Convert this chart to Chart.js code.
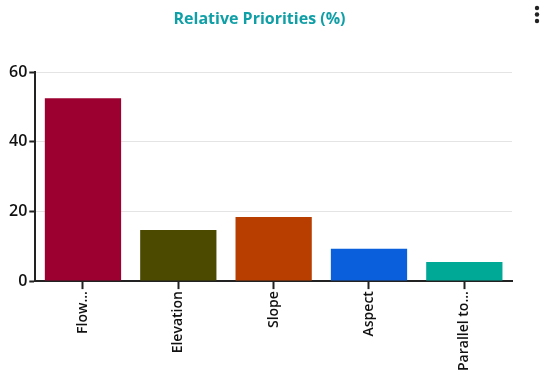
<!DOCTYPE html>
<html>
<head>
<meta charset="utf-8">
<script src="https://cdn.jsdelivr.net/npm/chart.js@4"></script>
<style>
  html, body { margin: 0; padding: 0; background: #fff; }
  #wrap { width: 550px; height: 377px; }
</style>
</head>
<body>
<div id="wrap"><canvas id="prioChart" width="550" height="377"></canvas></div>
<script>
// chart data
var categories = ['Flow...', 'Elevation', 'Slope', 'Aspect', 'Parallel to...'];
var priorities = [52.5, 14.7, 18.4, 9.3, 5.5];
var barColors = ['#9b0030', '#4b4a00', '#b83e00', '#0a5fdc', '#00a896'];
var yTicks = [0, 20, 40, 60];

// little "more" menu in the top right corner
var menuDots = {
    id: 'menuDots',
    afterDraw: function (chart) {
        var c = chart.ctx;
        c.save();
        c.fillStyle = '#222';
        [8, 14.5, 21].forEach(function (y) {
            c.beginPath();
            c.arc(537, y, 2.2, 0, Math.PI * 2);
            c.fill();
        });
        c.restore();
    }
};

document.addEventListener('DOMContentLoaded', function () {
    var ctx = document.getElementById('prioChart').getContext('2d');

    new Chart(ctx, {
        type: 'bar',
        data: {
            labels: categories,
            datasets: [{
                label: 'Relative Priorities (%)',
                data: priorities,
                backgroundColor: barColors,
                borderWidth: 0,
                categoryPercentage: 1,
                barPercentage: 0.8
            }]
        },
        plugins: [menuDots],
        options: {
            responsive: false,
            animation: false,
            layout: { padding: { left: 7, right: 38, top: 0, bottom: 4 } },
            plugins: {
                legend: { display: false },
                tooltip: { enabled: false },
                title: {
                    display: true,
                    text: 'Relative Priorities (%)',
                    color: '#0f9fa6',
                    font: { family: 'Open Sans', size: 16, weight: 'bold' },
                    padding: { top: 10, bottom: 43 }
                }
            },
            scales: {
                x: {
                    border: { color: '#222', width: 2 },
                    grid: {
                        offset: false,
                        drawOnChartArea: false,
                        tickColor: '#222',
                        tickWidth: 2,
                        tickLength: 8
                    },
                    ticks: {
                        minRotation: 90,
                        maxRotation: 90,
                        color: '#111',
                        padding: 2,
                        font: { family: 'Open Sans', size: 14, weight: '600' }
                    }
                },
                y: {
                    min: 0,
                    max: 60,
                    afterBuildTicks: function (axis) {
                        axis.ticks = yTicks.map(function (v) { return { value: v }; });
                    },
                    border: { color: '#222', width: 2 },
                    grid: {
                        color: '#e4e4e4',
                        tickColor: '#222',
                        tickWidth: 2,
                        tickLength: 6
                    },
                    ticks: {
                        color: '#111',
                        padding: 2,
                        font: { family: 'Open Sans', size: 16, weight: '600' }
                    }
                }
            }
        }
    });
});
</script>
</body>
</html>
